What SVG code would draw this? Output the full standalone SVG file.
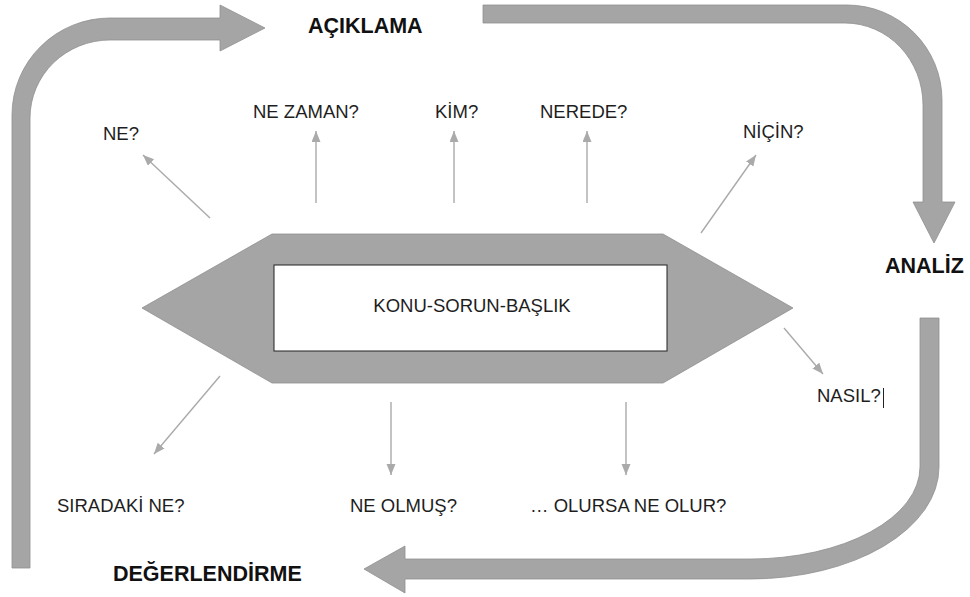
<svg xmlns="http://www.w3.org/2000/svg" width="970" height="597" viewBox="0 0 970 597">
<defs>
<style>
.big{fill:#a5a5a5;stroke:#8f8f8f;stroke-width:0.8}
.lbl{font-family:"Liberation Sans",Arial,sans-serif;font-size:18.5px;fill:#1e1e1e}
.hd{font-family:"Liberation Sans",Arial,sans-serif;font-size:21.5px;font-weight:bold;fill:#111}
.cn{fill:none;stroke:#aaaaaa;stroke-width:1.4}
</style>
<marker id="ah" markerUnits="userSpaceOnUse" markerWidth="12" markerHeight="10" refX="11" refY="4.5" orient="auto">
<path d="M0,0 L11,4.5 L0,9 z" fill="#aaaaaa"/>
</marker>
</defs>
<rect width="970" height="597" fill="#ffffff"/>
<g id="cycle-arrows">
<path id="arrow-aciklama" class="big" d="M12,568 L12,115 A98,97 0 0 1 110,18 L220,18 L220,5 L265,28 L220,51 L220,40 L110,40 A80,78 0 0 0 30,118 L30,568 Z"/>
<path id="arrow-analiz" class="big" d="M483,5 L847,5 A95,95 0 0 1 942,100 L942,202 L955,202 L934,243 L913,202 L923,202 L923,105 A78,82 0 0 0 845,23 L483,23 Z"/>
<path id="arrow-degerlendirme" class="big" d="M920,318 L939,318 L939,467 A189,112 0 0 1 750,579 L405,579 L405,593 L364,569 L405,546 L405,559 L750,559 A170,92 0 0 0 920,467 Z"/>
</g>
<g id="center">
<polygon class="big" points="142,308 272,234 663,234 793,308 663,383 272,383"/>
<rect x="274" y="265" width="393" height="86" fill="#ffffff" stroke="#222" stroke-width="1"/>
<text class="lbl" x="472" y="312" text-anchor="middle">KONU-SORUN-BAŞLIK</text>
</g>
<g id="connectors">
<line class="cn" x1="210" y1="218" x2="143" y2="155" marker-end="url(#ah)"/>
<line class="cn" x1="316" y1="203" x2="316" y2="131" marker-end="url(#ah)"/>
<line class="cn" x1="454" y1="203" x2="454" y2="131" marker-end="url(#ah)"/>
<line class="cn" x1="587" y1="203" x2="587" y2="131" marker-end="url(#ah)"/>
<line class="cn" x1="701" y1="233" x2="756" y2="155" marker-end="url(#ah)"/>
<line class="cn" x1="784" y1="328" x2="823" y2="374" marker-end="url(#ah)"/>
<line class="cn" x1="220" y1="376" x2="154" y2="454" marker-end="url(#ah)"/>
<line class="cn" x1="391" y1="402" x2="391" y2="475" marker-end="url(#ah)"/>
<line class="cn" x1="626" y1="402" x2="626" y2="475" marker-end="url(#ah)"/>
</g>
<g id="labels">
<text id="aciklama" class="hd" x="308" y="33">AÇIKLAMA</text>
<text id="analiz" class="hd" x="885" y="273">ANALİZ</text>
<text id="degerlendirme" class="hd" x="113" y="581">DEĞERLENDİRME</text>
<text id="ne" class="lbl" x="103" y="140">NE?</text>
<text id="ne-zaman" class="lbl" x="253" y="118">NE ZAMAN?</text>
<text id="kim" class="lbl" x="435" y="118">KİM?</text>
<text id="nerede" class="lbl" x="540" y="118">NEREDE?</text>
<text id="nicin" class="lbl" x="743" y="138">NİÇİN?</text>
<g id="nasil">
<text class="lbl" x="817" y="402">NASIL?</text>
<line x1="883.5" y1="388" x2="883.5" y2="408" stroke="#222" stroke-width="1"/>
</g>
<text id="siradaki" class="lbl" x="57" y="512">SIRADAKİ NE?</text>
<text id="ne-olmus" class="lbl" x="350" y="512">NE OLMUŞ?</text>
<text id="olursa" class="lbl" x="530" y="512">… OLURSA NE OLUR?</text>
</g>
</svg>
